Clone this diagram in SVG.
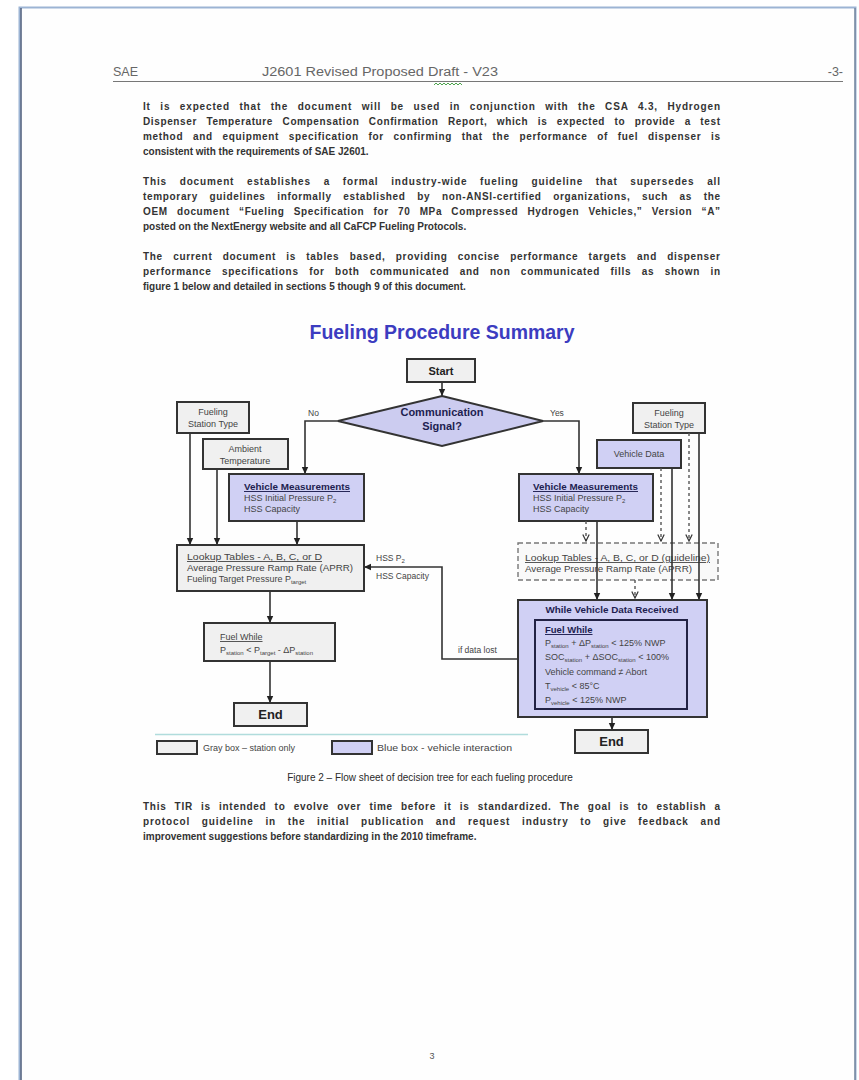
<svg xmlns="http://www.w3.org/2000/svg" width="859" height="1080" viewBox="0 0 859 1080">
<defs>
<marker id="ah" markerUnits="userSpaceOnUse" markerWidth="8" markerHeight="8" refX="7" refY="4" orient="auto"><path d="M0,0.8 L7,4 L0,7.2 z" fill="#222"/></marker>
<marker id="av" markerUnits="userSpaceOnUse" markerWidth="8" markerHeight="8" refX="7" refY="4" orient="auto"><path d="M0.5,0.8 L7,4 L0.5,7.2" fill="none" stroke="#333" stroke-width="1.2"/></marker>
</defs>
<style>
text{font-family:"Liberation Sans",Arial,sans-serif}
.hd{font-size:12.5px;fill:#666}
.p{font-size:10px;fill:#333;font-weight:bold}
.gbox{fill:#f0f0f0;stroke:#333;stroke-width:2}
.bbox{fill:#d0d0f4;stroke:#333;stroke-width:2}
.t{font-size:9px;fill:#444}
.tb{font-size:9.5px;fill:#1e1e50;font-weight:bold}
.u{text-decoration:underline}
.end{font-size:13px;font-weight:bold;fill:#222}
.c{stroke:#333;stroke-width:1.6;fill:none}
.d{stroke:#555;stroke-width:1.4;fill:none;stroke-dasharray:3 3}
.lbl{font-size:8.5px;fill:#444}
.sub{font-size:6px}
</style>
<rect x="0" y="0" width="859" height="1080" fill="#ffffff"/>
<g id="page">
<rect x="19.5" y="7.5" width="836" height="1080" fill="#fefefe" stroke="#9cb4d4" stroke-width="2"/>
<line x1="21" y1="8" x2="21" y2="1080" stroke="#4a5a78" stroke-width="1.5"/>
<line x1="855" y1="8" x2="855" y2="1080" stroke="#6a7a90" stroke-width="1.2"/>
</g>
<g id="header">
<text class="hd" x="113" y="76">SAE</text>
<text class="hd" x="262" y="76" textLength="236" lengthAdjust="spacingAndGlyphs">J2601 Revised Proposed Draft - V23</text>
<path d="M434,85 l2,-2 l2,2 l2,-2 l2,2 l2,-2 l2,2 l2,-2 l2,2 l2,-2 l2,2 l2,-2 l2,2 l2,-2 l2,2" fill="none" stroke="#3a9a3a" stroke-width="0.9"/>
<text class="hd" x="843" y="76" text-anchor="end">-3-</text>
<line x1="113" y1="81.5" x2="843" y2="81.5" stroke="#777" stroke-width="1"/>
</g>
<g id="paragraphs">
<text class="p" x="143" y="109.5" word-spacing="5.9" textLength="577" lengthAdjust="spacing">It is expected that the document will be used in conjunction with the CSA 4.3, Hydrogen</text>
<text class="p" x="143" y="124.5" word-spacing="6.1" textLength="577" lengthAdjust="spacing">Dispenser Temperature Compensation Confirmation Report, which is expected to provide a test</text>
<text class="p" x="143" y="139.5" word-spacing="6.3" textLength="577" lengthAdjust="spacing">method and equipment specification for confirming that the performance of fuel dispenser is</text>
<text class="p" x="143" y="154.5">consistent with the requirements of SAE J2601.</text>
<text class="p" x="143" y="184.5" word-spacing="9.1" textLength="577" lengthAdjust="spacing">This document establishes a formal industry-wide fueling guideline that supersedes all</text>
<text class="p" x="143" y="199.5" word-spacing="8.2" textLength="577" lengthAdjust="spacing">temporary guidelines informally established by non-ANSI-certified organizations, such as the</text>
<text class="p" x="143" y="214.5" word-spacing="5.9" textLength="577" lengthAdjust="spacing">OEM document “Fueling Specification for 70 MPa Compressed Hydrogen Vehicles,” Version “A”</text>
<text class="p" x="143" y="229.5">posted on the NextEnergy website and all CaFCP Fueling Protocols.</text>
<text class="p" x="143" y="259.5" word-spacing="6.8" textLength="577" lengthAdjust="spacing">The current document is tables based, providing concise performance targets and dispenser</text>
<text class="p" x="143" y="274.5" word-spacing="6.9" textLength="577" lengthAdjust="spacing">performance specifications for both communicated and non communicated fills as shown in</text>
<text class="p" x="143" y="289.5">figure 1 below and detailed in sections 5 though 9 of this document.</text>
</g>
<text id="title" x="442" y="339" text-anchor="middle" font-size="19.5" font-weight="bold" fill="#3c3cc0" textLength="265" lengthAdjust="spacingAndGlyphs">Fueling Procedure Summary</text>
<g id="connectors">
<line class="c" x1="442" y1="382" x2="442" y2="396" marker-end="url(#ah)"/>
<polyline class="c" points="338,421 305,421 305,474" marker-end="url(#ah)"/>
<polyline class="c" points="543,421 579,421 579,474" marker-end="url(#ah)"/>
<line class="c" x1="190" y1="433" x2="190" y2="545" marker-end="url(#ah)"/>
<line class="c" x1="217" y1="469" x2="217" y2="545" marker-end="url(#ah)"/>
<line class="c" x1="297" y1="521" x2="297" y2="545" marker-end="url(#ah)"/>
<line class="c" x1="270" y1="591" x2="270" y2="623" marker-end="url(#ah)"/>
<line class="c" x1="270" y1="661" x2="270" y2="703" marker-end="url(#ah)"/>
<polyline class="c" points="519,659 442,659 442,567 364,567" marker-end="url(#ah)"/>
<line class="c" x1="612" y1="717" x2="612" y2="730" marker-end="url(#ah)"/>
</g>
<g id="start"><rect class="gbox" x="407" y="359" width="68" height="23"/><text x="441" y="374.5" text-anchor="middle" font-size="11" font-weight="bold" fill="#222">Start</text></g>
<g id="decision"><polygon points="442,396 543,421 442,446 338,421" fill="#ccccf0" stroke="#333" stroke-width="2"/><text x="442" y="416" text-anchor="middle" font-size="11" font-weight="bold" fill="#1e1e50">Communication</text><text x="442" y="430" text-anchor="middle" font-size="11" font-weight="bold" fill="#1e1e50">Signal?</text></g>
<text class="lbl" x="308" y="416">No</text>
<text class="lbl" x="550" y="416">Yes</text>
<g id="fst-left"><rect class="gbox" x="177" y="402" width="72" height="31"/><text class="t" x="213" y="415" text-anchor="middle" font-size="8.5">Fueling</text><text class="t" x="213" y="427" text-anchor="middle" font-size="8.5">Station Type</text></g>
<g id="ambient"><rect class="gbox" x="203" y="439" width="85" height="30"/><text class="t" x="245" y="452" text-anchor="middle" font-size="8.5">Ambient</text><text class="t" x="245" y="464" text-anchor="middle" font-size="8.5">Temperature</text></g>
<g id="vm-left"><rect class="bbox" x="229" y="474" width="135" height="47"/><text class="tb u" x="244" y="490" textLength="106" lengthAdjust="spacingAndGlyphs">Vehicle Measurements</text><text class="t" x="244" y="501">HSS Initial Pressure P<tspan class="sub" dy="2">2</tspan></text><text class="t" x="244" y="512">HSS Capacity</text></g>
<g id="lookup-left"><rect class="gbox" x="177" y="545" width="187" height="46"/><text class="t u" x="187" y="560" textLength="135" lengthAdjust="spacingAndGlyphs">Lookup Tables - A, B, C, or D</text><text class="t" x="187" y="571" textLength="166" lengthAdjust="spacingAndGlyphs">Average Pressure Ramp Rate (APRR)</text><text class="t" x="187" y="582">Fueling Target Pressure P<tspan class="sub" dy="2">target</tspan></text></g>
<text class="lbl" x="376" y="561">HSS P<tspan class="sub" dy="2">2</tspan></text>
<text class="lbl" x="376" y="579">HSS Capacity</text>
<g id="fuel-left"><rect class="gbox" x="204" y="623" width="131" height="38"/><text class="t u" x="220" y="640">Fuel While</text><text class="t" x="220" y="653">P<tspan class="sub" dy="2">station</tspan><tspan dy="-2"> &lt; P</tspan><tspan class="sub" dy="2">target</tspan><tspan dy="-2"> - ΔP</tspan><tspan class="sub" dy="2">station</tspan></text></g>
<g id="end-left"><rect class="gbox" x="234" y="703" width="73" height="23"/><text class="end" x="270.5" y="719" text-anchor="middle">End</text></g>
<g id="fst-right"><rect class="gbox" x="633" y="403" width="72" height="30"/><text class="t" x="669" y="415.5" text-anchor="middle" font-size="8.5">Fueling</text><text class="t" x="669" y="427.5" text-anchor="middle" font-size="8.5">Station Type</text></g>
<g id="vehicle-data"><rect class="bbox" x="597" y="440" width="84" height="28"/><text class="t" x="639" y="457" text-anchor="middle">Vehicle Data</text></g>
<g id="vm-right"><rect class="bbox" x="519" y="474" width="134" height="47"/><text class="tb u" x="533" y="490" textLength="105" lengthAdjust="spacingAndGlyphs">Vehicle Measurements</text><text class="t" x="533" y="501">HSS Initial Pressure P<tspan class="sub" dy="2">2</tspan></text><text class="t" x="533" y="512">HSS Capacity</text></g>
<g id="lookup-right"><rect x="518" y="543" width="200" height="37" fill="#f6f6f6" fill-opacity="0.7" stroke="#777" stroke-width="1.4" stroke-dasharray="5 3"/><text class="t u" x="525" y="561" textLength="185" lengthAdjust="spacingAndGlyphs">Lookup Tables - A, B, C, or D (guideline)</text><text class="t" x="525" y="572" textLength="167" lengthAdjust="spacingAndGlyphs">Average Pressure Ramp Rate (APRR)</text></g>
<g id="connectors-right">
<line class="d" x1="586" y1="521" x2="586" y2="541" marker-end="url(#av)"/>
<line class="d" x1="661" y1="468" x2="661" y2="541" marker-end="url(#av)"/>
<line class="d" x1="689" y1="433" x2="689" y2="541" marker-end="url(#av)"/>
<line class="d" x1="635" y1="580" x2="635" y2="598" marker-end="url(#av)"/>
<line class="c" x1="597" y1="521" x2="597" y2="600" marker-end="url(#ah)"/>
<line class="c" x1="672" y1="468" x2="672" y2="600" marker-end="url(#ah)"/>
<line class="c" x1="699" y1="433" x2="699" y2="600" marker-end="url(#ah)"/>
</g>
<g id="while-received"><rect class="bbox" x="518" y="600" width="189" height="117"/><text class="tb" x="612" y="613" text-anchor="middle" textLength="133" lengthAdjust="spacingAndGlyphs">While Vehicle Data Received</text>
<rect x="535" y="620" width="152" height="89" fill="#d0d0f4" stroke="#222244" stroke-width="2"/>
<text class="tb u" x="545" y="633" font-size="9">Fuel While</text>
<text class="t" x="545" y="646">P<tspan class="sub" dy="2">station</tspan><tspan dy="-2"> + ΔP</tspan><tspan class="sub" dy="2">station</tspan><tspan dy="-2"> &lt; 125% NWP</tspan></text>
<text class="t" x="545" y="660">SOC<tspan class="sub" dy="2">station</tspan><tspan dy="-2"> + ΔSOC</tspan><tspan class="sub" dy="2">station</tspan><tspan dy="-2"> &lt; 100%</tspan></text>
<text class="t" x="545" y="675">Vehicle command ≠ Abort</text>
<text class="t" x="545" y="689">T<tspan class="sub" dy="2">vehicle</tspan><tspan dy="-2"> &lt; 85°C</tspan></text>
<text class="t" x="545" y="703">P<tspan class="sub" dy="2">vehicle</tspan><tspan dy="-2"> &lt; 125% NWP</tspan></text>
</g>
<text class="lbl" x="458" y="653">if data lost</text>
<g id="end-right"><rect class="gbox" x="575" y="730" width="73" height="23"/><text class="end" x="611.5" y="746" text-anchor="middle">End</text></g>
<g id="legend">
<line x1="155" y1="734.5" x2="528" y2="734.5" stroke="#b0dcdc" stroke-width="1.5"/>
<rect class="gbox" x="157" y="741" width="40" height="13" stroke-width="1.5"/>
<text class="t" x="203" y="751">Gray box – station only</text>
<rect class="bbox" x="332" y="741" width="40" height="13" stroke-width="1.5"/>
<text class="t" x="377" y="751" textLength="135" lengthAdjust="spacingAndGlyphs">Blue box - vehicle interaction</text>
</g>
<text id="caption" x="430" y="781" text-anchor="middle" font-size="10" fill="#2a2a2a">Figure 2 – Flow sheet of decision tree for each fueling procedure</text>
<g id="closing">
<text class="p" x="143" y="810" word-spacing="4.7" textLength="577" lengthAdjust="spacing">This TIR is intended to evolve over time before it is standardized.  The goal is to establish a</text>
<text class="p" x="143" y="825" word-spacing="7.9" textLength="577" lengthAdjust="spacing">protocol guideline in the initial publication and request industry to give feedback and</text>
<text class="p" x="143" y="840">improvement suggestions before standardizing in the 2010 timeframe.</text>
</g>
<text id="pagenum" x="432" y="1059" text-anchor="middle" font-size="9" fill="#555">3</text>
</svg>
